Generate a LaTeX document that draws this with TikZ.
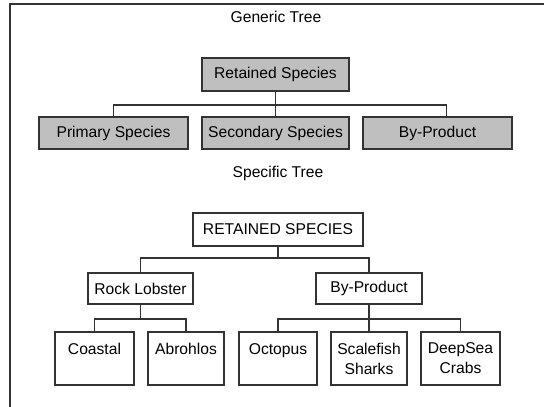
\documentclass[tikz,border=0pt]{standalone}
\usepackage{fontspec}
\setmainfont{Liberation Sans}
\usetikzlibrary{positioning}
\usetikzlibrary{calc}

\begin{document}
\begin{tikzpicture}[
  font=\fontsize{8.9}{11.3}\selectfont,
  line width=1.1pt,
  gbox/.style={draw=black!80, fill=gray!50, minimum height=.64cm, inner sep=0},
  sbox/.style={draw=black!80, fill=white, minimum height=.62cm, inner sep=0},
  leaf/.style={sbox, minimum height=1.06cm, align=center},
  conn/.style={draw=black!80}]
\useasboundingbox (0,0) rectangle (10.88,-8.14);

%frame
\draw[black!80] (0.2,-8.14) -- (0.2,-0.08) -- (10.88,-0.08);

%generic tree
\node (gtitle) at (5.52,-0.34) {Generic Tree};
\node[gbox, minimum width=2.94cm, minimum height=.66cm] (gret) at (5.51,-1.49) {Retained Species};
\node[gbox, minimum width=2.98cm] (gprim) at (2.27,-2.66) {Primary Species};
\node[gbox, minimum width=2.94cm] (gsec) at (5.51,-2.66) {Secondary Species};
\node[gbox, minimum width=2.98cm] (gby) at (8.75,-2.66) {By-Product};

\coordinate (gbar) at (0,-2.1);
\coordinate (gbydrop) at ([xshift=.18cm]gby.north);
\draw[conn] (gret) -- (gret |- gbar);
\draw[conn] (gprim) |- (gbar -| gbydrop) -- (gbydrop);
\draw[conn] (gsec) -- (gsec |- gbar);

%specific tree
\node (stitle) at (5.56,-3.46) {Specific Tree};
\node[sbox, minimum width=3.4cm, minimum height=.66cm] (sret) at (5.56,-4.59) {RETAINED SPECIES};
\node[sbox, minimum width=2.1cm] (srock) at (2.81,-5.77) {Rock Lobster};
\node[sbox, minimum width=2.12cm] (sby) at (7.38,-5.77) {By-Product};

\coordinate (sbar) at (0,-5.16);
\draw[conn] (sret) -- (sret |- sbar);
\draw[conn] (srock) |- (sbar -| sby) -- (sby);

%leaves
\node[leaf, minimum width=1.58cm] (coastal) at (1.89,-7.17) {Coastal\\~};
\node[leaf, minimum width=1.52cm] (abrohlos) at (3.72,-7.17) {Abrohlos\\~};
\node[leaf, minimum width=1.56cm] (octopus) at (5.56,-7.17) {Octopus\\~};
\node[leaf, minimum width=1.52cm] (scalefish) at (7.38,-7.17) {Scalefish\\Sharks};
\node[leaf, minimum width=1.58cm] (deepsea) at (9.21,-7.17) {DeepSea\\Crabs};

\coordinate (lbar) at (0,-6.38);
\draw[conn] (srock) -- (srock |- lbar);
\draw[conn] (coastal) |- (lbar -| abrohlos) -- (abrohlos);
\draw[conn] (sby) -- (sby |- lbar);
\draw[conn] (octopus) |- (lbar -| deepsea) -- (deepsea);
\draw[conn] (scalefish) -- (scalefish |- lbar);

\end{tikzpicture}
\end{document}
